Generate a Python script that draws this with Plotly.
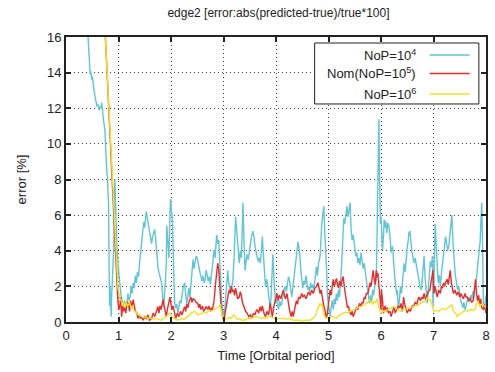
import plotly.graph_objects as go

# ---- data -------------------------------------------------------------
t_nop4 = [0.30, 0.40, 0.42, 0.44, 0.46, 0.47, 0.49, 0.50, 0.52, 0.55, 0.57, 0.59, 0.61, 0.63, 0.65, 0.67,
          0.68, 0.70, 0.72, 0.74, 0.75, 0.77, 0.78, 0.79, 0.80, 0.81, 0.82, 0.83, 0.84, 0.85, 0.86, 0.87,
          0.89, 0.90, 0.91, 0.92, 0.93, 0.94, 0.95, 0.97, 0.99, 1.01, 1.03, 1.05, 1.07, 1.09, 1.11, 1.13,
          1.16, 1.18, 1.20, 1.22, 1.24, 1.26, 1.28, 1.30, 1.32, 1.34, 1.36, 1.38, 1.40, 1.42, 1.44, 1.46,
          1.48, 1.50, 1.52, 1.53, 1.55, 1.57, 1.59, 1.61, 1.63, 1.65, 1.67, 1.69, 1.71, 1.73, 1.75, 1.77,
          1.79, 1.82, 1.84, 1.85, 1.87, 1.89, 1.91, 1.92, 1.94, 1.96, 1.98, 1.99, 2.01, 2.03, 2.05, 2.07,
          2.09, 2.11, 2.13, 2.15, 2.17, 2.19, 2.21, 2.23, 2.26, 2.28, 2.30, 2.32, 2.34, 2.36, 2.38, 2.40,
          2.42, 2.44, 2.46, 2.48, 2.50, 2.52, 2.55, 2.57, 2.59, 2.61, 2.63, 2.65, 2.67, 2.69, 2.71, 2.73,
          2.75, 2.77, 2.79, 2.81, 2.82, 2.84, 2.86, 2.87, 2.89, 2.91, 2.93, 2.95, 2.97, 2.99, 3.01, 3.03,
          3.05, 3.07, 3.08, 3.10, 3.12, 3.14, 3.16, 3.18, 3.20, 3.22, 3.23, 3.25, 3.26, 3.28, 3.30, 3.32,
          3.34, 3.36, 3.37, 3.39, 3.41, 3.43, 3.45, 3.47, 3.50, 3.52, 3.54, 3.56, 3.58, 3.60, 3.62, 3.64,
          3.66, 3.68, 3.70, 3.72, 3.74, 3.75, 3.77, 3.79, 3.80, 3.82, 3.84, 3.86, 3.88, 3.89, 3.91, 3.93,
          3.94, 3.96, 3.98, 3.99, 4.01, 4.03, 4.05, 4.07, 4.09, 4.11, 4.13, 4.15, 4.18, 4.20, 4.22, 4.24,
          4.26, 4.28, 4.30, 4.32, 4.34, 4.36, 4.38, 4.40, 4.42, 4.43, 4.45, 4.47, 4.49, 4.51, 4.53, 4.55,
          4.57, 4.59, 4.61, 4.62, 4.64, 4.66, 4.68, 4.70, 4.72, 4.74, 4.76, 4.77, 4.79, 4.81, 4.84, 4.85,
          4.87, 4.89, 4.91, 4.93, 4.95, 4.97, 4.98, 5.00, 5.02, 5.03, 5.05, 5.07, 5.09, 5.11, 5.13, 5.15,
          5.17, 5.19, 5.21, 5.23, 5.25, 5.27, 5.29, 5.31, 5.33, 5.35, 5.37, 5.39, 5.41, 5.43, 5.45, 5.47,
          5.50, 5.52, 5.54, 5.56, 5.58, 5.60, 5.62, 5.64, 5.66, 5.68, 5.70, 5.72, 5.73, 5.75, 5.77, 5.78,
          5.80, 5.82, 5.84, 5.86, 5.88, 5.90, 5.91, 5.92, 5.93, 5.94, 5.95, 5.96, 5.97, 5.98, 5.99, 6.00,
          6.02, 6.03, 6.05, 6.06, 6.08, 6.09, 6.11, 6.13, 6.15, 6.16, 6.18, 6.19, 6.22, 6.24, 6.26, 6.28,
          6.30, 6.31, 6.33, 6.35, 6.37, 6.39, 6.41, 6.43, 6.44, 6.46, 6.48, 6.50, 6.52, 6.53, 6.55, 6.57,
          6.59, 6.60, 6.62, 6.63, 6.65, 6.67, 6.69, 6.71, 6.72, 6.74, 6.77, 6.79, 6.80, 6.82, 6.84, 6.86,
          6.88, 6.90, 6.92, 6.94, 6.96, 6.98, 6.99, 7.01, 7.03, 7.05, 7.07, 7.09, 7.11, 7.13, 7.15, 7.17,
          7.19, 7.21, 7.23, 7.25, 7.27, 7.29, 7.31, 7.33, 7.35, 7.37, 7.39, 7.41, 7.42, 7.44, 7.46, 7.48,
          7.50, 7.52, 7.54, 7.56, 7.58, 7.60, 7.62, 7.64, 7.67, 7.69, 7.71, 7.73, 7.75, 7.77, 7.79, 7.81,
          7.83, 7.85, 7.86, 7.88, 7.89, 7.90, 7.92, 7.93, 7.94, 7.95, 7.97, 7.99, 8.00]
err_nop4 = [19.0, 16.8, 16.0, 14.8, 13.9, 14.1, 13.6, 13.8, 13.2, 12.7, 12.4, 12.1, 12.2, 11.9, 12.1, 12.0,
            12.3, 11.6, 11.2, 10.8, 9.6, 8.9, 8.3, 8.2, 7.2, 6.7, 3.3, 0.9, 2.0, 1.2, 0.3, 1.5,
            2.9, 3.8, 4.2, 6.0, 8.0, 7.0, 5.5, 4.2, 3.3, 2.4, 2.0, 1.5, 1.1, 0.86, 1.2, 1.0,
            1.05, 1.6, 1.2, 1.4, 2.0, 1.6, 2.2, 1.9, 2.6, 2.2, 2.8, 2.55, 3.3, 4.0, 4.8, 5.0,
            5.6, 5.3, 6.0, 6.2, 5.8, 5.4, 5.0, 4.6, 4.4, 4.8, 5.1, 5.2, 4.6, 3.8, 3.1, 2.8,
            2.5, 2.2, 1.5, 0.86, 1.2, 2.0, 3.2, 5.4, 4.5, 3.6, 6.0, 6.9, 6.2, 5.6, 3.0, 1.05,
            0.8, 1.0, 0.5, 0.8, 1.2, 1.05, 1.5, 1.9, 2.2, 1.6, 1.0, 1.4, 1.9, 1.4, 2.2, 2.6,
            3.5, 3.0, 3.3, 3.7, 3.6, 3.2, 2.8, 2.55, 2.3, 2.6, 2.2, 2.4, 2.9, 2.6, 2.3, 2.55,
            2.1, 2.7, 3.1, 3.8, 4.05, 3.6, 4.5, 4.9, 4.4, 4.6, 3.3, 2.0, 1.05, 0.6, 0.3, 0.9,
            1.8, 2.6, 2.9, 2.2, 1.8, 1.6, 2.0, 2.4, 3.5, 5.0, 5.9, 5.2, 4.8, 3.9, 3.3, 4.0,
            3.6, 5.5, 6.7, 4.5, 2.9, 3.4, 3.8, 3.5, 4.25, 4.6, 4.9, 5.1, 4.8, 4.25, 4.0, 3.7,
            3.4, 3.6, 3.3, 3.9, 4.8, 4.2, 3.1, 2.5, 2.0, 2.4, 2.1, 1.5, 1.0, 0.7, 1.6, 3.2,
            3.8, 2.5, 1.5, 1.05, 1.3, 0.9, 0.7, 1.2, 0.9, 1.05, 1.5, 1.8, 2.0, 1.7, 2.2, 2.55,
            2.3, 1.8, 1.4, 1.9, 2.5, 2.9, 3.5, 4.2, 4.5, 4.3, 3.9, 3.0, 2.4, 1.9, 2.3, 2.1,
            2.6, 2.2, 1.8, 2.0, 1.7, 2.2, 1.9, 2.1, 1.8, 2.3, 2.7, 3.1, 2.6, 3.3, 3.7, 4.6,
            5.4, 6.0, 6.5, 5.0, 4.05, 2.5, 1.4, 0.8, 0.5, 0.3, 0.8, 1.2, 0.7, 1.3, 1.0, 1.6,
            1.2, 1.8, 1.4, 2.2, 3.2, 4.5, 5.8, 5.5, 6.2, 6.5, 5.9, 6.2, 6.7, 5.2, 4.6, 4.9,
            4.05, 3.7, 3.9, 3.3, 3.6, 3.2, 3.9, 3.5, 3.0, 3.3, 2.8, 2.6, 2.4, 1.6, 1.2, 1.05,
            1.5, 1.1, 1.8, 1.5, 2.0, 2.2, 2.4, 4.0, 6.0, 6.7, 9.0, 11.4, 8.6, 6.5, 5.5, 5.9,
            4.8, 4.05, 5.0, 5.75, 5.3, 5.65, 5.0, 5.55, 5.4, 5.2, 4.5, 3.9, 4.25, 3.1, 2.6, 2.0,
            1.5, 1.8, 0.7, 1.2, 2.0, 1.6, 2.4, 2.9, 3.3, 2.8, 3.6, 4.2, 4.6, 5.0, 5.1, 4.25,
            3.9, 3.8, 3.5, 3.3, 3.6, 3.1, 2.9, 2.6, 2.4, 2.0, 1.8, 2.5, 3.2, 3.7, 2.5, 1.6,
            1.05, 1.8, 2.9, 3.4, 3.1, 3.7, 0.86, 2.5, 5.5, 4.2, 2.8, 2.2, 2.6, 2.0, 2.7, 3.3,
            3.9, 4.3, 4.8, 4.4, 4.0, 4.25, 5.0, 5.4, 6.0, 4.5, 3.2, 2.8, 2.55, 2.1, 1.8, 2.0,
            1.5, 1.2, 1.05, 0.8, 1.1, 0.7, 0.9, 1.2, 1.4, 1.1, 1.5, 1.3, 1.7, 1.5, 2.0, 2.2,
            2.8, 3.5, 3.9, 4.4, 4.6, 5.5, 6.7, 5.0, 2.5, 1.05, 0.8, 1.3, 1.5]

t_nom = [0.70, 0.75, 0.99, 1.01, 1.03, 1.04, 1.06, 1.08, 1.10, 1.12, 1.14, 1.16, 1.19, 1.21, 1.23, 1.25,
         1.28, 1.30, 1.32, 1.35, 1.37, 1.40, 1.42, 1.44, 1.47, 1.50, 1.53, 1.56, 1.59, 1.63, 1.66, 1.69,
         1.72, 1.75, 1.77, 1.79, 1.81, 1.83, 1.85, 1.87, 1.89, 1.91, 1.93, 1.95, 1.98, 2.00, 2.02, 2.04,
         2.07, 2.09, 2.12, 2.15, 2.18, 2.21, 2.24, 2.26, 2.28, 2.30, 2.32, 2.35, 2.38, 2.40, 2.42, 2.45,
         2.48, 2.51, 2.53, 2.55, 2.57, 2.60, 2.62, 2.65, 2.67, 2.70, 2.72, 2.75, 2.77, 2.79, 2.82, 2.85,
         2.87, 2.89, 2.91, 2.92, 2.95, 2.98, 3.01, 3.03, 3.05, 3.08, 3.10, 3.11, 3.13, 3.15, 3.17, 3.19,
         3.21, 3.23, 3.25, 3.27, 3.30, 3.32, 3.34, 3.36, 3.39, 3.42, 3.45, 3.48, 3.51, 3.54, 3.57, 3.60,
         3.62, 3.64, 3.67, 3.70, 3.72, 3.74, 3.77, 3.80, 3.83, 3.86, 3.89, 3.91, 3.93, 3.96, 3.99, 4.01,
         4.02, 4.04, 4.06, 4.09, 4.12, 4.14, 4.16, 4.18, 4.21, 4.23, 4.25, 4.27, 4.29, 4.31, 4.33, 4.36,
         4.39, 4.41, 4.43, 4.46, 4.49, 4.51, 4.54, 4.57, 4.60, 4.62, 4.65, 4.68, 4.71, 4.74, 4.77, 4.80,
         4.82, 4.84, 4.86, 4.89, 4.91, 4.93, 4.96, 4.98, 5.00, 5.03, 5.05, 5.07, 5.09, 5.11, 5.13, 5.15,
         5.17, 5.19, 5.21, 5.24, 5.26, 5.28, 5.30, 5.32, 5.34, 5.36, 5.38, 5.40, 5.43, 5.45, 5.47, 5.50,
         5.53, 5.56, 5.59, 5.62, 5.64, 5.66, 5.68, 5.70, 5.72, 5.75, 5.77, 5.79, 5.81, 5.83, 5.85, 5.87,
         5.89, 5.91, 5.93, 5.94, 5.96, 5.98, 6.00, 6.01, 6.03, 6.05, 6.06, 6.08, 6.10, 6.12, 6.14, 6.17,
         6.19, 6.22, 6.25, 6.27, 6.30, 6.33, 6.36, 6.38, 6.41, 6.43, 6.45, 6.48, 6.50, 6.53, 6.56, 6.59,
         6.62, 6.65, 6.68, 6.70, 6.72, 6.75, 6.78, 6.80, 6.82, 6.85, 6.87, 6.90, 6.93, 6.95, 6.97, 6.99,
         7.01, 7.03, 7.05, 7.07, 7.10, 7.13, 7.15, 7.17, 7.19, 7.21, 7.23, 7.26, 7.28, 7.30, 7.32, 7.34,
         7.36, 7.38, 7.41, 7.44, 7.47, 7.50, 7.52, 7.54, 7.57, 7.60, 7.62, 7.64, 7.67, 7.70, 7.73, 7.76,
         7.78, 7.80, 7.82, 7.84, 7.86, 7.88, 7.90, 7.92, 7.95, 7.97, 8.00]
err_nom = [19.5, 16.0, 1.1, 0.7, 1.0, 1.4, 0.3, 0.9, 0.6, 0.8, 0.5, 1.1, 1.05, 0.6, 1.2, 0.8,
           1.25, 0.9, 0.6, 0.5, 0.2, 0.4, 0.2, 0.3, 0.1, 0.3, 0.2, 0.4, 0.1, 0.2, 0.5, 0.3,
           0.6, 0.86, 0.5, 0.9, 0.7, 1.1, 1.25, 0.9, 0.6, 0.3, 0.7, 1.0, 1.4, 1.0, 0.7, 0.9,
           0.5, 0.2, 0.5, 0.3, 0.6, 0.4, 0.7, 0.86, 0.6, 1.0, 0.8, 1.2, 1.4, 1.1, 1.3, 1.25,
           1.1, 1.05, 0.8, 1.0, 0.7, 0.9, 0.6, 0.8, 0.86, 0.7, 0.9, 0.6, 0.8, 0.7, 1.2, 2.2,
           2.8, 3.3, 2.9, 2.4, 1.05, 0.3, 0.05, 0.5, 0.9, 1.4, 1.7, 1.8, 1.6, 2.0, 1.7, 1.8,
           1.5, 1.9, 1.6, 1.3, 1.4, 1.7, 1.5, 1.1, 0.86, 0.6, 0.5, 0.3, 0.4, 0.2, 0.5, 0.4,
           0.6, 0.7, 0.5, 0.86, 0.6, 0.9, 0.5, 0.3, 0.6, 0.4, 1.05, 0.6, 0.3, 0.9, 1.25, 1.4,
           1.6, 1.2, 1.5, 1.3, 1.6, 1.8, 1.5, 1.3, 1.6, 1.0, 0.8, 0.5, 0.3, 0.6, 0.3, 0.8,
           1.2, 1.0, 1.4, 1.3, 1.6, 1.4, 1.5, 1.3, 1.6, 1.7, 1.5, 1.8, 1.6, 1.9, 2.0, 2.2,
           1.9, 1.6, 1.8, 1.2, 0.9, 0.7, 0.2, 0.5, 1.0, 1.8, 1.5, 2.1, 2.4, 2.0, 2.3, 2.45,
           2.1, 1.9, 2.3, 2.0, 2.4, 2.55, 2.0, 1.6, 1.4, 0.8, 0.9, 0.6, 0.4, 0.6, 0.3, 0.6,
           0.8, 0.7, 1.05, 0.9, 1.1, 1.05, 1.4, 1.3, 1.6, 1.6, 1.9, 2.2, 2.0, 2.6, 2.9, 2.4,
           2.1, 2.9, 2.5, 2.75, 2.0, 1.0, 0.7, 1.8, 1.2, 0.5, 0.7, 0.9, 0.6, 0.8, 0.5, 0.6,
           0.3, 0.6, 0.86, 0.5, 0.7, 0.9, 0.8, 1.05, 0.6, 1.4, 1.0, 0.7, 0.5, 0.7, 0.6, 0.9,
           0.86, 1.1, 1.0, 1.2, 1.4, 1.2, 1.4, 1.3, 1.6, 1.25, 1.5, 1.7, 1.8, 2.2, 2.75, 2.9,
           1.6, 2.0, 1.7, 1.4, 1.8, 1.6, 2.0, 1.9, 2.2, 2.0, 2.2, 2.4, 2.1, 2.6, 2.9, 2.2,
           1.9, 1.6, 1.8, 1.5, 1.7, 1.4, 1.6, 1.5, 1.3, 1.6, 1.4, 1.4, 1.2, 1.3, 1.1, 1.25,
           1.8, 2.4, 1.6, 1.2, 1.5, 1.0, 1.3, 0.8, 0.7, 1.0, 0.5]

t_nop6 = [0.70, 0.75, 0.99, 1.01, 1.03, 1.06, 1.08, 1.10, 1.13, 1.15, 1.17, 1.19, 1.21, 1.24, 1.26, 1.28,
          1.31, 1.35, 1.38, 1.41, 1.44, 1.48, 1.52, 1.56, 1.60, 1.63, 1.67, 1.71, 1.75, 1.79, 1.82, 1.86,
          1.89, 1.91, 1.94, 1.98, 2.01, 2.05, 2.09, 2.13, 2.17, 2.21, 2.25, 2.29, 2.33, 2.36, 2.38, 2.42,
          2.45, 2.48, 2.51, 2.55, 2.60, 2.64, 2.67, 2.70, 2.74, 2.78, 2.82, 2.85, 2.88, 2.92, 2.94, 2.96,
          2.98, 3.01, 3.04, 3.08, 3.11, 3.14, 3.17, 3.20, 3.23, 3.27, 3.31, 3.35, 3.39, 3.43, 3.47, 3.52,
          3.56, 3.60, 3.64, 3.68, 3.72, 3.76, 3.81, 3.85, 3.89, 3.93, 3.97, 4.01, 4.05, 4.10, 4.14, 4.19,
          4.24, 4.29, 4.34, 4.40, 4.45, 4.50, 4.55, 4.60, 4.65, 4.70, 4.74, 4.77, 4.80, 4.82, 4.84, 4.86,
          4.88, 4.90, 4.93, 4.96, 4.99, 5.03, 5.06, 5.09, 5.12, 5.15, 5.19, 5.23, 5.28, 5.32, 5.36, 5.40,
          5.44, 5.48, 5.52, 5.56, 5.60, 5.64, 5.68, 5.72, 5.75, 5.78, 5.81, 5.84, 5.87, 5.90, 5.92, 5.94,
          5.97, 6.00, 6.03, 6.06, 6.10, 6.13, 6.17, 6.21, 6.25, 6.29, 6.33, 6.38, 6.42, 6.46, 6.50, 6.54,
          6.58, 6.63, 6.67, 6.71, 6.75, 6.79, 6.82, 6.85, 6.88, 6.91, 6.94, 6.97, 6.99, 7.01, 7.05, 7.10,
          7.14, 7.18, 7.23, 7.26, 7.30, 7.35, 7.38, 7.42, 7.45, 7.49, 7.54, 7.57, 7.62, 7.66, 7.70, 7.74,
          7.79, 7.82, 7.85, 7.88, 7.92, 7.95, 8.00]
err_nop6 = [19.5, 16.0, 1.9, 1.6, 1.3, 1.15, 0.9, 1.1, 0.86, 1.1, 0.9, 0.96, 1.1, 0.8, 0.9, 0.7,
            0.6, 0.5, 0.4, 0.35, 0.3, 0.25, 0.3, 0.2, 0.25, 0.2, 0.15, 0.2, 0.15, 0.1, 0.1, 0.2,
            0.25, 0.3, 0.4, 0.5, 0.3, 0.2, 0.15, 0.1, 0.15, 0.2, 0.15, 0.25, 0.3, 0.4, 0.5, 0.55,
            0.6, 0.5, 0.4, 0.45, 0.5, 0.55, 0.5, 0.6, 0.65, 0.6, 0.7, 0.77, 0.8, 0.86, 1.0, 0.6,
            0.3, 0.2, 0.15, 0.2, 0.25, 0.2, 0.3, 0.4, 0.25, 0.15, 0.2, 0.1, 0.1, 0.15, 0.2, 0.2,
            0.25, 0.3, 0.3, 0.25, 0.2, 0.25, 0.2, 0.3, 0.3, 0.25, 0.2, 0.15, 0.2, 0.2, 0.2, 0.15,
            0.2, 0.15, 0.1, 0.1, 0.1, 0.05, 0.1, 0.1, 0.1, 0.2, 0.3, 0.5, 0.8, 0.95, 1.05, 0.9,
            1.0, 0.6, 0.3, 0.2, 0.25, 0.2, 0.3, 0.3, 0.25, 0.2, 0.35, 0.4, 0.5, 0.55, 0.5, 0.6,
            0.65, 0.7, 0.75, 0.8, 0.85, 0.9, 0.95, 1.05, 1.1, 1.25, 1.1, 1.0, 1.15, 1.1, 1.3, 1.0,
            0.7, 0.5, 0.6, 0.6, 0.65, 0.7, 0.75, 0.8, 0.86, 0.75, 0.7, 0.6, 0.7, 0.7, 0.77, 0.8,
            0.85, 0.86, 0.9, 0.95, 1.05, 1.1, 1.15, 1.2, 1.35, 1.25, 1.25, 1.0, 0.86, 0.6, 0.65, 0.6,
            0.7, 0.75, 0.7, 0.77, 0.85, 0.96, 0.6, 0.5, 0.3, 0.45, 0.5, 0.6, 0.65, 0.6, 0.7, 0.65,
            0.7, 1.05, 1.15, 0.9, 1.0, 0.96, 0.8]

series_names = ["NoP=10<sup>4</sup>", "Nom(NoP=10<sup>5</sup>)", "NoP=10<sup>6</sup>"]
series_colors = ["#5fc6d6", "#ec2a2a", "#f0e21e"]

x_ticks = [0, 1, 2, 3, 4, 5, 6, 7, 8]
y_ticks = [0, 2, 4, 6, 8, 10, 12, 14, 16]

FONT = "Liberation Sans, Arial, sans-serif"

fig = go.Figure()
for t, v, name, col in zip([t_nop4, t_nom, t_nop6], [err_nop4, err_nom, err_nop6],
                           series_names, series_colors):
    fig.add_trace(go.Scatter(x=t, y=v, mode="lines", name=name,
                             line=dict(color=col, width=1.4), showlegend=False))

axis_common = dict(
    showline=True, linecolor="#222222", linewidth=2, mirror="ticks",
    ticks="inside", ticklen=5, tickwidth=2, tickcolor="#222222",
    showgrid=True, gridcolor="#444444", gridwidth=1, griddash="1px,3px",
    zeroline=False, tickfont=dict(family=FONT, size=13, color="#222222"),
)

fig.update_layout(
    width=495, height=372,
    margin=dict(l=66, r=5, t=37, b=50),
    paper_bgcolor="white", plot_bgcolor="white",
    font=dict(family=FONT, size=13, color="#222222"),
    title=dict(text="edge2 [error:abs(predicted-true)/true*100]",
               x=0.5625, xanchor="center", y=0.965, yanchor="middle",
               font=dict(family=FONT, size=12, color="#222222")),
    xaxis=dict(range=[0, 8], tickvals=x_ticks, ticktext=[str(v) for v in x_ticks],
               title=dict(text="Time [Orbital period]", standoff=9,
                          font=dict(family=FONT, size=13)),
               **axis_common),
    yaxis=dict(range=[0, 16], tickvals=y_ticks, ticktext=[str(v) for v in y_ticks],
               title=dict(text="error [%]", standoff=17,
                          font=dict(family=FONT, size=13)),
               **axis_common),
)

# Key box in the upper-right corner: labels on the left, line samples on the right
fig.add_shape(type="rect", xref="paper", yref="paper",
              x0=0.592, x1=0.983, y0=0.765, y1=0.979,
              line=dict(color="#222222", width=1), fillcolor="white", layer="above")
row_y = [0.937, 0.872, 0.8]
for name, col, yy in zip(series_names, series_colors, row_y):
    fig.add_annotation(xref="paper", yref="paper", x=0.838, y=yy, text=name,
                       showarrow=False, xanchor="right", yanchor="middle",
                       font=dict(family=FONT, size=13, color="#222222"))
    fig.add_shape(type="line", xref="paper", yref="paper",
                  x0=0.866, x1=0.961, y0=yy, y1=yy,
                  line=dict(color=col, width=1.5), layer="above")

fig.write_html("out.html")
